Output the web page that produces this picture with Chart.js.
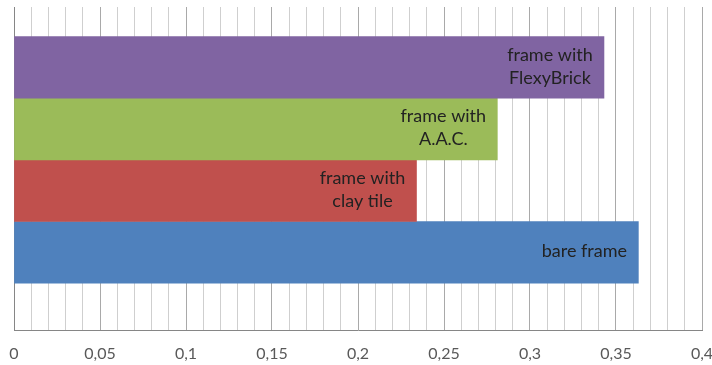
<!DOCTYPE html>
<html>
<head>
<meta charset="utf-8">
<script src="https://cdn.jsdelivr.net/npm/chart.js@4/dist/chart.umd.min.js"></script>
<style>
  html, body { margin: 0; padding: 0; background: #ffffff; }
  #wrap { width: 712px; height: 365px; }
</style>
</head>
<body>
<div id="wrap"><canvas id="c" width="712" height="365"></canvas></div>
<script>
// Wall assemblies, listed bottom to top
const categories = ['bare frame', 'frame with clay tile', 'frame with A.A.C.', 'frame with FlexyBrick'];
// Bar label text, one entry per line
const barLabels = [['bare frame'], ['frame with', 'clay tile'], ['frame with', 'A.A.C.'], ['frame with', 'FlexyBrick']];
const values = [0.363, 0.234, 0.281, 0.343];
const barColors = ['#4F81BD', '#C0504D', '#9BBB59', '#8064A2'];
// Labelled x-axis ticks
const tickLabels = ['0', '0,05', '0,1', '0,15', '0,2', '0,25', '0,3', '0,35', '0,4'];

const labelFont = '18px Lato';

// Writes each bar's name inside the bar, near its end
const insideLabels = {
  id: 'insideLabels',
  afterDatasetsDraw(chart) {
    const ctx = chart.ctx;
    const meta = chart.getDatasetMeta(0);
    ctx.save();
    ctx.font = labelFont;
    ctx.fillStyle = '#222222';
    ctx.textAlign = 'center';
    ctx.textBaseline = 'middle';
    const lineH = 23;
    meta.data.forEach((bar, i) => {
      const lines = barLabels[i];
      const cx = bar.x - 54;
      const y0 = bar.y - (lines.length - 1) * lineH / 2 - 1;
      lines.forEach((t, k) => ctx.fillText(t, cx, y0 + k * lineH));
    });
    ctx.restore();
  }
};

new Chart(document.getElementById('c'), {
  type: 'bar',
  data: {
    datasets: [{
      label: 'assemblies',
      data: categories.map((c, i) => ({ x: values[i], y: i })),
      backgroundColor: barColors,
      borderWidth: 0,
      barPercentage: 1,
      categoryPercentage: 1
    }]
  },
  options: {
    indexAxis: 'y',
    responsive: false,
    animation: false,
    layout: { padding: { left: 14, right: 10, top: 7, bottom: 0 } },
    plugins: { legend: { display: false }, tooltip: { enabled: false } },
    scales: {
      x: {
        type: 'linear',
        min: 0,
        max: 0.4,
        afterFit: (scale) => {
          scale.height = 35;
          scale.paddingLeft = 0;
          scale.paddingRight = 0;
        },
        border: { display: true, color: '#868686', width: 1 },
        grid: {
          drawTicks: false,
          color: (ctx) => {
            const v = Math.round(ctx.tick.value * 100);
            if (v === 0) return '#868686';
            return v % 5 === 0 ? '#a9a9a9' : '#cfcfcf';
          },
          lineWidth: 1
        },
        ticks: {
          stepSize: 0.01,
          autoSkip: false,
          maxRotation: 0,
          minRotation: 0,
          padding: 14,
          color: '#595959',
          font: { family: 'Lato', size: 16 },
          callback: (value) => {
            const v = Math.round(value * 100);
            return v % 5 === 0 ? tickLabels[v / 5] : '';
          }
        }
      },
      y: {
        type: 'linear',
        display: false,
        offset: false,
        grid: { offset: false },
        min: -1.26,
        max: 3.98,
        ticks: { stepSize: 1, includeBounds: false }
      }
    }
  },
  plugins: [insideLabels]
});
</script>
</body>
</html>
